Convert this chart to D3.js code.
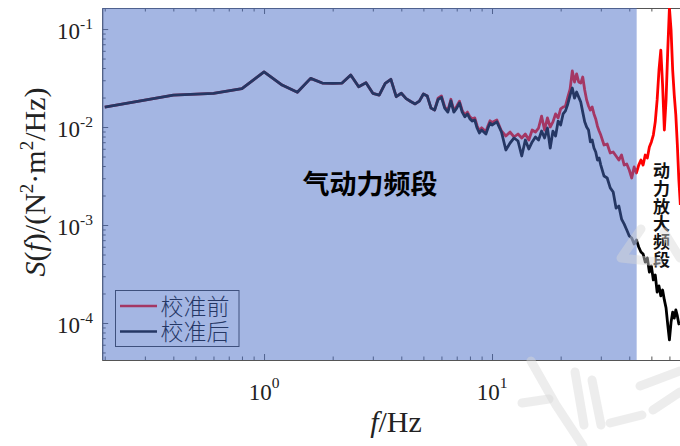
<!DOCTYPE html>
<html>
<head>
<meta charset="utf-8">
<script src="https://cdn.jsdelivr.net/npm/d3@7"></script>
<style>
  html, body { margin: 0; padding: 0; background: #fff; }
  svg { display: block; }
</style>
</head>
<body>
<svg id="chart" width="680" height="446"></svg>
<script>
// Frequency axis of the spectra (Hz)
const freq = [
  0.2, 0.4, 0.6, 0.8, 1.0, 1.2, 1.4, 1.6, 1.8, 2.0,
  2.2, 2.4, 2.6, 2.8, 3.0, 3.2, 3.4, 3.6, 3.8, 4.0,
  4.2, 4.4, 4.6, 4.8, 5.0, 5.2, 5.4, 5.6, 5.8, 6.0,
  6.2, 6.4, 6.6, 6.8, 7.0, 7.2, 7.4, 7.6, 7.8, 8.0,
  8.2, 8.4, 8.6, 8.8, 9.0, 9.2, 9.4, 9.6, 9.8, 10.0,
  10.5, 11, 11.5, 12, 12.5, 13, 13.5, 14, 14.5, 15,
  15.5, 16, 16.5, 17, 17.5, 18, 18.5, 19, 19.5, 20,
  20.5, 21, 21.5, 22, 22.5, 23, 23.5, 24, 24.5, 25,
  25.5, 26, 26.5, 27, 27.5, 28, 28.5, 29, 29.5, 30,
  31, 32, 33, 34, 35, 36, 37, 38, 39, 40,
  41, 42, 43, 44, 45, 46, 47, 48, 49, 50,
  51, 52, 53, 54, 55, 56, 57, 58, 59, 60,
  61, 62, 63, 64, 65, 66, 67
];

// Force spectrum before calibration, S(f) in N^2·m^2/Hz
const psdBefore = [
  0.0160, 0.0212, 0.0221, 0.0246, 0.0366, 0.0268, 0.0226, 0.0314, 0.0281, 0.0279,
  0.0281, 0.0340, 0.0258, 0.0283, 0.0221, 0.0212, 0.0279, 0.0307, 0.0204, 0.0221,
  0.0195, 0.0182, 0.0172, 0.0184, 0.0217, 0.0207, 0.0156, 0.0149, 0.0197, 0.0208,
  0.0161, 0.0147, 0.0192, 0.0147, 0.0163, 0.0183, 0.0148, 0.0133, 0.0142, 0.0127,
  0.0121, 0.0124, 0.0103, 0.00915, 0.00982, 0.00938, 0.00895, 0.0103, 0.0116, 0.0111,
  0.0118, 0.00910, 0.00810, 0.00889, 0.00791, 0.00849, 0.00773, 0.00849, 0.00737, 0.00932,
  0.00889, 0.00977, 0.0129, 0.00932, 0.0124, 0.0100, 0.0113, 0.0136, 0.0124, 0.0153,
  0.0160, 0.0164, 0.0202, 0.0244, 0.0373, 0.0288, 0.0348, 0.0288, 0.0281, 0.0324,
  0.0239, 0.0189, 0.0164, 0.0149, 0.0160, 0.0136, 0.0121, 0.0102, 0.00910, 0.00828,
  0.00655, 0.00671, 0.00543, 0.00556, 0.00506, 0.00460, 0.00518, 0.00409, 0.00419, 0.00364,
  0.00302, 0.00391, 0.00340, 0.00409, 0.00460, 0.00409, 0.00518, 0.00483, 0.00625, 0.00705,
  0.00828, 0.0113, 0.0189, 0.0382, 0.0610, 0.0268, 0.00932, 0.0189, 0.0610, 0.165,
  0.0977, 0.0382, 0.0212, 0.0133, 0.00655, 0.00288, 0.00160
];

// Force spectrum after calibration
const psdAfter = [
  0.0160, 0.0212, 0.0221, 0.0246, 0.0366, 0.0268, 0.0226, 0.0314, 0.0281, 0.0279,
  0.0281, 0.0340, 0.0258, 0.0283, 0.0221, 0.0212, 0.0279, 0.0307, 0.0204, 0.0221,
  0.0195, 0.0182, 0.0172, 0.0184, 0.0217, 0.0207, 0.0156, 0.0149, 0.0191, 0.0201,
  0.0156, 0.0142, 0.0185, 0.0142, 0.0156, 0.0176, 0.0142, 0.0127, 0.0136, 0.0121,
  0.0115, 0.0118, 0.00977, 0.00869, 0.00932, 0.00890, 0.00849, 0.00977, 0.0110, 0.0105,
  0.0113, 0.00889, 0.00583, 0.00687, 0.00773, 0.00720, 0.00506, 0.00737, 0.00597, 0.00705,
  0.00791, 0.00737, 0.00910, 0.00773, 0.00977, 0.00611, 0.00910, 0.00810, 0.0115, 0.0105,
  0.0136, 0.0146, 0.0172, 0.0212, 0.0250, 0.0197, 0.0228, 0.0202, 0.0180, 0.0142,
  0.0113, 0.0100, 0.00932, 0.00705, 0.00737, 0.00611, 0.00556, 0.00460, 0.00483, 0.00409,
  0.00316, 0.00302, 0.00239, 0.00217, 0.00149, 0.00156, 0.00115, 0.00102, 0.000889, 0.000773,
  0.000737, 0.000640, 0.000703, 0.000597, 0.000530, 0.000506, 0.000419, 0.000460, 0.000331, 0.000382,
  0.000275, 0.000309, 0.000207, 0.000239, 0.000189, 0.000217, 0.000172, 0.000142, 0.0000955, 0.0000671,
  0.000102, 0.000129, 0.000112, 0.000136, 0.000118, 0.0000977, 0.000102
];

const seriesNames = ["校准前", "校准后"];
const seriesColors = ["#ff0000", "#000000"];
const xMajorTicks = [1, 10, 100];
const yMajorTicks = [1e-4, 1e-3, 1e-2, 1e-1];
const aeroBandLabel = "气动力频段";
const dynamicBandLabel = "动力放大频段";
const aeroBandEdge = 43.1;   // upper limit of the aerodynamic band (Hz)

const W = 680, H = 446;
const svg = d3.select("#chart");
const plot = { left: 102.2, top: 8, bottom: 360, right: 720 };

const x = d3.scaleLog().domain([0.195, 100]).range([plot.left, plot.right]);
const y = d3.scaleLog().domain([4.19e-5, 0.164]).range([plot.bottom, plot.top]);

svg.append("rect").attr("width", W).attr("height", H).attr("fill", "#fff");

svg.append("defs").append("clipPath").attr("id", "plotClip")
  .append("rect")
  .attr("x", plot.left).attr("y", plot.top)
  .attr("width", plot.right - plot.left).attr("height", plot.bottom - plot.top);

// minor / major tick values
const xMinor = [], yMinor = [];
for (let e = -1; e <= 1; e++) for (let m = 2; m <= 9; m++) xMinor.push(m * Math.pow(10, e));
for (let e = -5; e <= -1; e++) for (let m = 2; m <= 9; m++) yMinor.push(m * Math.pow(10, e));
const inX = v => v >= x.domain()[0] && v <= x.domain()[1];
const inY = v => v >= y.domain()[0] && v <= y.domain()[1];

const axisColor = "#555";
function styleAxis(g) {
  g.selectAll("path.domain").attr("stroke", axisColor).attr("stroke-width", 1);
  g.selectAll(".tick line").attr("stroke", axisColor).attr("stroke-width", 1);
  g.selectAll(".tick text").remove();
}

const axes = svg.append("g");
// bottom
axes.append("g").attr("transform", `translate(0,${plot.bottom})`)
  .call(d3.axisBottom(x).tickValues(xMajorTicks.filter(inX)).tickSizeInner(-6).tickSizeOuter(0)).call(styleAxis);
axes.append("g").attr("transform", `translate(0,${plot.bottom})`)
  .call(d3.axisBottom(x).tickValues(xMinor.filter(inX)).tickSizeInner(-3.5).tickSizeOuter(0)).call(styleAxis);
// top
axes.append("g").attr("transform", `translate(0,${plot.top})`)
  .call(d3.axisTop(x).tickValues(xMajorTicks.filter(inX)).tickSizeInner(-6).tickSizeOuter(0)).call(styleAxis);
axes.append("g").attr("transform", `translate(0,${plot.top})`)
  .call(d3.axisTop(x).tickValues(xMinor.filter(inX)).tickSizeInner(-3.5).tickSizeOuter(0)).call(styleAxis);
// left
axes.append("g").attr("transform", `translate(${plot.left},0)`)
  .call(d3.axisLeft(y).tickValues(yMajorTicks.filter(inY)).tickSizeInner(-6).tickSizeOuter(0)).call(styleAxis);
axes.append("g").attr("transform", `translate(${plot.left},0)`)
  .call(d3.axisLeft(y).tickValues(yMinor.filter(inY)).tickSizeInner(-3.5).tickSizeOuter(0)).call(styleAxis);

// spectra
const line = d3.line().x(d => x(d.f)).y(d => y(d.v));
const series = [psdBefore, psdAfter].map((vals, i) => ({
  name: seriesNames[i], color: seriesColors[i],
  points: freq.map((f, j) => ({ f, v: vals[j] }))
}));
svg.append("g").attr("clip-path", "url(#plotClip)")
  .selectAll("path").data(series).join("path")
  .attr("d", d => line(d.points))
  .attr("fill", "none")
  .attr("stroke", d => d.color)
  .attr("stroke-width", 2.8)
  .attr("stroke-linejoin", "round");

// legend: swatches plus a two-line label block
const legend = svg.append("g").attr("transform", "translate(115.5,290.5)");
legend.append("rect").attr("width", 123.5).attr("height", 56)
  .attr("fill", "none").attr("stroke", "#333").attr("stroke-width", 1);
const legendRow = i => 15.5 + i * 25.5;
series.forEach((s, i) => {
  legend.append("line").attr("x1", 4.5).attr("x2", 41.5)
    .attr("y1", legendRow(i)).attr("y2", legendRow(i))
    .attr("stroke", s.color).attr("stroke-width", 2.6);
});
const legendText = legend.append("text")
  .attr("font-family", "'Liberation Serif', 'Noto Sans CJK SC', serif")
  .attr("font-weight", 300)
  .attr("font-size", 23).attr("fill", "#000");
series.forEach((s, i) => {
  legendText.append("tspan").attr("x", 45).attr("y", legendRow(i) + 8.5).text(s.name);
});

// translucent band marking the aerodynamic frequency range
svg.append("rect")
  .attr("x", plot.left).attr("y", plot.top)
  .attr("width", x(aeroBandEdge) - plot.left)
  .attr("height", plot.bottom - plot.top)
  .attr("fill", "rgb(74,110,200)").attr("fill-opacity", 0.5);

// band labels
svg.append("text")
  .attr("x", 370).attr("y", 194)
  .attr("text-anchor", "middle")
  .attr("font-family", "'Noto Sans CJK SC', sans-serif")
  .attr("font-weight", 700).attr("font-size", 27).attr("fill", "#000")
  .text(aeroBandLabel);

// vertical label of the dynamic amplification band
svg.append("text")
  .attr("x", 661.5).attr("y", 162)
  .attr("writing-mode", "vertical-rl")
  .style("text-orientation", "upright")
  .attr("letter-spacing", 0.8)
  .attr("font-family", "'Noto Sans CJK SC', sans-serif")
  .attr("font-weight", 700).attr("font-size", 17).attr("fill", "#111")
  .text(dynamicBandLabel);

// tick labels (powers of ten)
const serif = "'Liberation Serif', 'Times New Roman', serif";
const tickColor = "#222";
xMajorTicks.filter(inX).filter(v => x(v) < W - 20).forEach(v => {
  const e = Math.round(Math.log10(v));
  const t = svg.append("text").attr("x", x(v)).attr("y", 400)
    .attr("text-anchor", "middle").attr("font-family", serif)
    .attr("font-size", 23).attr("fill", tickColor);
  t.append("tspan").text("10");
  t.append("tspan").attr("dy", -12).attr("font-size", 15.5).text(String(e));
});
yMajorTicks.filter(inY).forEach(v => {
  const e = Math.round(Math.log10(v));
  const t = svg.append("text").attr("x", 93).attr("y", y(v) + 10)
    .attr("text-anchor", "end").attr("font-family", serif)
    .attr("font-size", 23).attr("fill", tickColor);
  t.append("tspan").text("10");
  t.append("tspan").attr("dy", -10).attr("font-size", 15.5).text(String(e));
});

// axis titles
const xTitle = svg.append("text").attr("x", 396).attr("y", 432)
  .attr("text-anchor", "middle").attr("font-family", serif)
  .attr("font-size", 30).attr("fill", tickColor);
xTitle.append("tspan").attr("font-style", "italic").text("f");
xTitle.append("tspan").text("/Hz");

const yTitle = svg.append("text")
  .attr("transform", "translate(45,182) rotate(-90)")
  .attr("text-anchor", "middle").attr("font-family", serif)
  .attr("font-size", 30).attr("fill", tickColor);
yTitle.append("tspan").attr("font-style", "italic").text("S");
yTitle.append("tspan").text("(");
yTitle.append("tspan").attr("font-style", "italic").text("f");
yTitle.append("tspan").text(")/(N");
yTitle.append("tspan").attr("dy", -12).attr("font-size", 19).text("2");
yTitle.append("tspan").attr("dy", 12).text("·m");
yTitle.append("tspan").attr("dy", -12).attr("font-size", 19).text("2");
yTitle.append("tspan").attr("dy", 12).text("/Hz)");

// faint publisher mark in the lower right corner
const markStrokes = [
  [[531, 361], [556, 405], [583, 446]],
  [[522, 403], [549, 399]],
  [[575, 372], [584, 425]],
  [[592, 380], [601, 425]],
  [[640, 386], [680, 371]],
  [[610, 423], [642, 415]],
  [[653, 410], [680, 392]],
  [[641, 229], [621, 258], [658, 262]],
  [[664, 232], [680, 258]]
];
svg.append("g")
  .selectAll("path").data(markStrokes).join("path")
  .attr("d", d => d3.line()(d))
  .attr("fill", "none")
  .attr("stroke", "#d6d6d6").attr("stroke-opacity", 0.45)
  .attr("stroke-width", 9).attr("stroke-linecap", "round").attr("stroke-linejoin", "round");
</script>
</body>
</html>
